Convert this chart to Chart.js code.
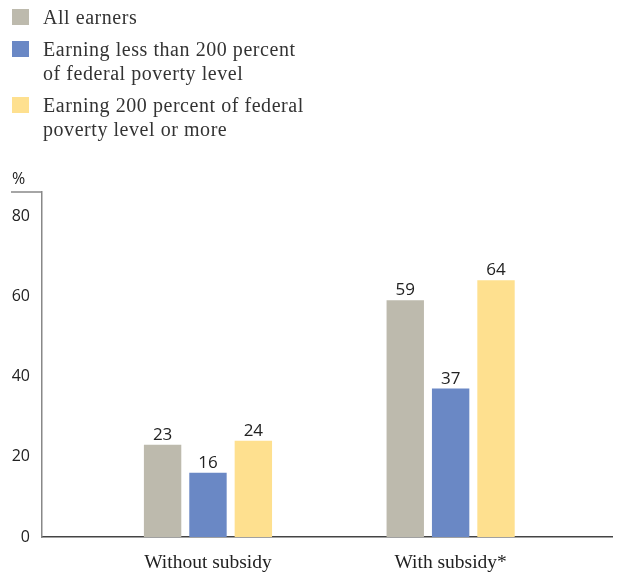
<!DOCTYPE html>
<html lang="en">
<head>
    <meta charset="UTF-8">
    <title>Share of earners</title>
    <script src="https://cdn.jsdelivr.net/npm/chart.js"></script>
    <style>
        body {
            margin: 0;
            background-color: #fff;
        }

        #wrap {
            position: relative;
            width: 631px;
            height: 575px;
        }

        #chart {
            position: absolute;
            left: 0;
            top: 0;
        }

        #legend {
            position: absolute;
            left: 0;
            top: 5px;
            font-family: 'Liberation Serif', serif;
            font-size: 20px;
            line-height: 24px;
            letter-spacing: 0.55px;
            color: #333;
        }

        .item {
            position: relative;
            padding-left: 43px;
            margin-bottom: 8px;
        }

        .box {
            position: absolute;
            left: 12px;
            top: 4px;
            width: 17px;
            height: 16px;
        }
    </style>
</head>
<body>
<div id="wrap">
    <canvas id="chart" width="631" height="575"></canvas>
    <div id="legend"></div>
</div>

<script>
    const categories = ['Without subsidy', 'With subsidy*'];
    const seriesNames = [
        ['All earners'],
        ['Earning less than 200 percent', 'of federal poverty level'],
        ['Earning 200 percent of federal', 'poverty level or more']
    ];
    const allEarners = [23, 59];
    const lessThan200 = [16, 37];
    const moreThan200 = [24, 64];
    const yTicks = [0, 20, 40, 60, 80];
    const colors = ['#bdbaad', '#6a88c5', '#fee08f'];

    // html legend (labels wrap over two lines)
    const legend = document.getElementById('legend');
    seriesNames.forEach((lines, i) => {
        const item = document.createElement('div');
        item.className = 'item';
        item.innerHTML = '<span class="box" style="background:' + colors[i] + '"></span>' + lines.join('<br>');
        legend.appendChild(item);
    });

    // numbers above bars, % sign and the little rule at the top of the y axis
    const barLabels = {
        id: 'barLabels',
        afterDatasetsDraw(chart) {
            const ctx = chart.ctx;
            const area = chart.chartArea;
            ctx.save();
            ctx.font = '17px "Open Sans"';
            ctx.fillStyle = '#222';
            ctx.textAlign = 'center';
            ctx.textBaseline = 'alphabetic';
            chart.data.datasets.forEach((ds, di) => {
                chart.getDatasetMeta(di).data.forEach((bar, i) => {
                    ctx.fillText(ds.data[i].y, bar.x, bar.y - 5);
                });
            });
            ctx.textAlign = 'left';
            ctx.font = '16px "Open Sans"';
            ctx.fillText('%', 12, area.top - 8);
            ctx.strokeStyle = '#888';
            ctx.lineWidth = 1.5;
            ctx.beginPath();
            ctx.moveTo(11, area.top);
            ctx.lineTo(area.left, area.top);
            ctx.stroke();
            ctx.restore();
        }
    };

    const toPoints = arr => arr.map((v, i) => ({ x: i, y: v }));

    new Chart(document.getElementById('chart'), {
        type: 'bar',
        data: {
            datasets: [
                { label: seriesNames[0].join(' '), data: toPoints(allEarners), backgroundColor: colors[0] },
                { label: seriesNames[1].join(' '), data: toPoints(lessThan200), backgroundColor: colors[1] },
                { label: seriesNames[2].join(' '), data: toPoints(moreThan200), backgroundColor: colors[2] }
            ]
        },
        options: {
            responsive: false,
            animation: false,
            categoryPercentage: 0.561,
            barPercentage: 0.824,
            layout: { padding: { top: 192, right: 19, left: 0, bottom: 0 } },
            plugins: {
                legend: { display: false },
                tooltip: { enabled: false }
            },
            scales: {
                x: {
                    type: 'linear',
                    offset: false,
                    min: -0.684,
                    max: 1.665,
                    afterBuildTicks: s => { s.ticks = categories.map((c, i) => ({ value: i })); },
                    afterFit: s => { s.height = 38; },
                    grid: { display: false, drawTicks: false },
                    border: { color: '#444', width: 1.5 },
                    ticks: {
                        callback: v => categories[v],
                        padding: 14,
                        maxRotation: 0,
                        autoSkip: false,
                        color: '#222',
                        font: { family: 'Liberation Serif', size: 19.5 }
                    }
                },
                y: {
                    min: 0,
                    max: 86,
                    afterBuildTicks: s => { s.ticks = yTicks.map(v => ({ value: v })); },
                    afterFit: s => { s.width = 42; },
                    grid: { display: false, drawTicks: false },
                    border: { color: '#888', width: 1.5 },
                    ticks: {
                        padding: 12,
                        color: '#222',
                        font: { family: 'Open Sans', size: 16 }
                    }
                }
            }
        },
        plugins: [barLabels]
    });
</script>
</body>
</html>
